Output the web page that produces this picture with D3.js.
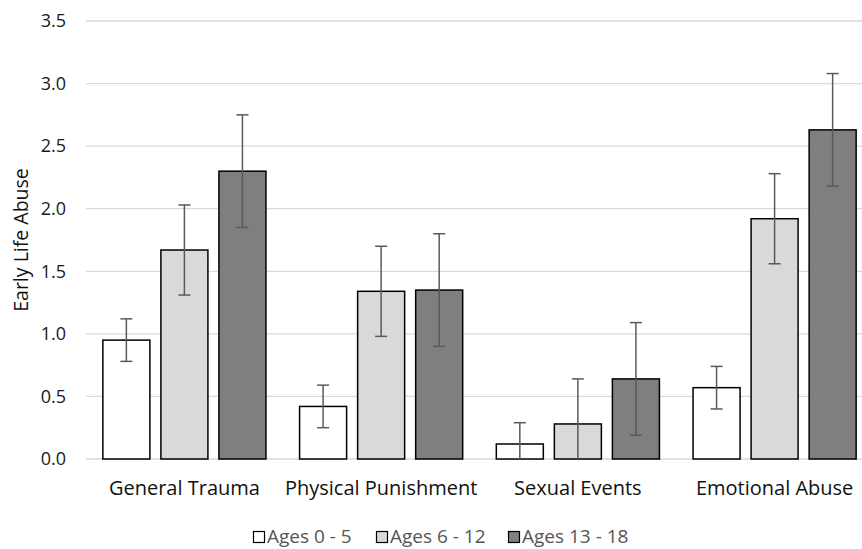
<!DOCTYPE html>
<html>
<head>
<meta charset="utf-8">
<script src="https://cdn.jsdelivr.net/npm/d3@7"></script>
<style>
  body { margin: 0; background: #fff; }
  text { font-family: "Open Sans", sans-serif; }
</style>
</head>
<body>
<div id="chart"></div>
<script>
const categories = ["General Trauma", "Physical Punishment", "Sexual Events", "Emotional Abuse"];
const seriesNames = ["Ages 0 - 5", "Ages 6 - 12", "Ages 13 - 18"];
const seriesColors = ["#ffffff", "#d9d9d9", "#7f7f7f"];
// mean values per series, one per category
const ages0to5 = [0.95, 0.42, 0.12, 0.57];
const ages6to12 = [1.67, 1.34, 0.28, 1.92];
const ages13to18 = [2.30, 1.35, 0.64, 2.63];
// error half-widths
const err0to5 = [0.17, 0.17, 0.17, 0.17];
const err6to12 = [0.36, 0.36, 0.36, 0.36];
const err13to18 = [0.45, 0.45, 0.45, 0.45];
const yTicks = [0, 0.5, 1.0, 1.5, 2.0, 2.5, 3.0, 3.5];

const values = [ages0to5, ages6to12, ages13to18];
const errors = [err0to5, err6to12, err13to18];

const width = 862, height = 549;
// the plot area runs a little past the right edge, as in the source image
const margin = { top: 21, bottom: 90, left: 86 };
const innerW = 787;
const innerH = height - margin.top - margin.bottom;
const font = "'Open Sans', sans-serif";

const svg = d3.select("#chart").append("svg")
    .attr("width", width)
    .attr("height", height);
const g = svg.append("g")
    .attr("transform", `translate(${margin.left}, ${margin.top})`);

const x0 = d3.scaleBand().domain(categories).range([0, innerW]).paddingInner(0.171).paddingOuter(0.0857);
const x1 = d3.scaleBand().domain(d3.range(seriesNames.length)).range([0, x0.bandwidth()]).paddingInner(0.19);
const y = d3.scaleLinear().domain([0, 3.5]).range([innerH, 0]);

// gridlines
g.append("g").selectAll("line")
    .data(yTicks)
    .join("line")
    .attr("x1", 0).attr("x2", innerW)
    .attr("y1", d => y(d)).attr("y2", d => y(d))
    .attr("stroke", "#d9d9d9")
    .attr("stroke-width", 1.3);

// y axis labels
const yAxis = g.append("g")
    .call(d3.axisLeft(y).tickValues(yTicks).tickFormat(d3.format(".1f")).tickSize(0).tickPadding(20));
yAxis.select(".domain").remove();
yAxis.selectAll("text")
    .attr("font-family", font)
    .attr("font-size", 18)
    .attr("fill", "#1a1a1a");

// x axis labels
const xAxis = g.append("g")
    .attr("transform", `translate(0, ${innerH})`)
    .call(d3.axisBottom(x0).tickSize(0).tickPadding(22));
xAxis.select(".domain").remove();
xAxis.selectAll("text")
    .attr("font-family", font)
    .attr("font-size", 20)
    .attr("fill", "#111");

// bars
const groups = g.append("g").selectAll("g")
    .data(categories)
    .join("g")
    .attr("transform", d => `translate(${x0(d)}, 0)`);

groups.selectAll("rect")
    .data((d, ci) => values.map((s, si) => ({ si, v: s[ci], e: errors[si][ci] })))
    .join("rect")
    .attr("x", d => x1(d.si))
    .attr("width", x1.bandwidth())
    .attr("y", d => y(d.v))
    .attr("height", d => y(0) - y(d.v))
    .attr("fill", d => seriesColors[d.si])
    .attr("stroke", "#000")
    .attr("stroke-width", 1.5);

// error bars
const eb = groups.selectAll("g.err")
    .data((d, ci) => values.map((s, si) => ({ si, v: s[ci], e: errors[si][ci] })))
    .join("g")
    .attr("class", "err")
    .attr("stroke", "#5a5a5a")
    .attr("stroke-width", 1.5);
const cx = d => x1(d.si) + x1.bandwidth() / 2;
eb.append("line")
    .attr("x1", cx).attr("x2", cx)
    .attr("y1", d => y(Math.max(0, d.v - d.e)))
    .attr("y2", d => y(d.v + d.e));
eb.append("line")
    .attr("x1", d => cx(d) - 6).attr("x2", d => cx(d) + 6)
    .attr("y1", d => y(d.v + d.e)).attr("y2", d => y(d.v + d.e));
eb.filter(d => d.v - d.e > 0).append("line")
    .attr("x1", d => cx(d) - 6).attr("x2", d => cx(d) + 6)
    .attr("y1", d => y(d.v - d.e)).attr("y2", d => y(d.v - d.e));

// y label
svg.append("text")
    .attr("transform", `translate(20, ${margin.top + innerH / 2}) rotate(-90)`)
    .attr("text-anchor", "middle")
    .attr("dominant-baseline", "central")
    .attr("font-size", 19.5)
    .attr("fill", "#111")
    .text("Early Life Abuse");

// legend
const legendX = [253, 376, 508];
const legend = svg.append("g").attr("transform", "translate(0, 543)");
const items = legend.selectAll("g")
    .data(seriesNames)
    .join("g")
    .attr("transform", (d, i) => `translate(${legendX[i]}, 0)`);
items.append("rect")
    .attr("x", 0.5).attr("y", -11.5)
    .attr("width", 11).attr("height", 11)
    .attr("fill", (d, i) => seriesColors[i])
    .attr("stroke", "#000")
    .attr("stroke-width", 1.2);
items.append("text")
    .attr("x", 14).attr("y", 0)
    .attr("font-size", 19)
    .attr("fill", "#555")
    .text(d => d);
</script>
</body>
</html>
